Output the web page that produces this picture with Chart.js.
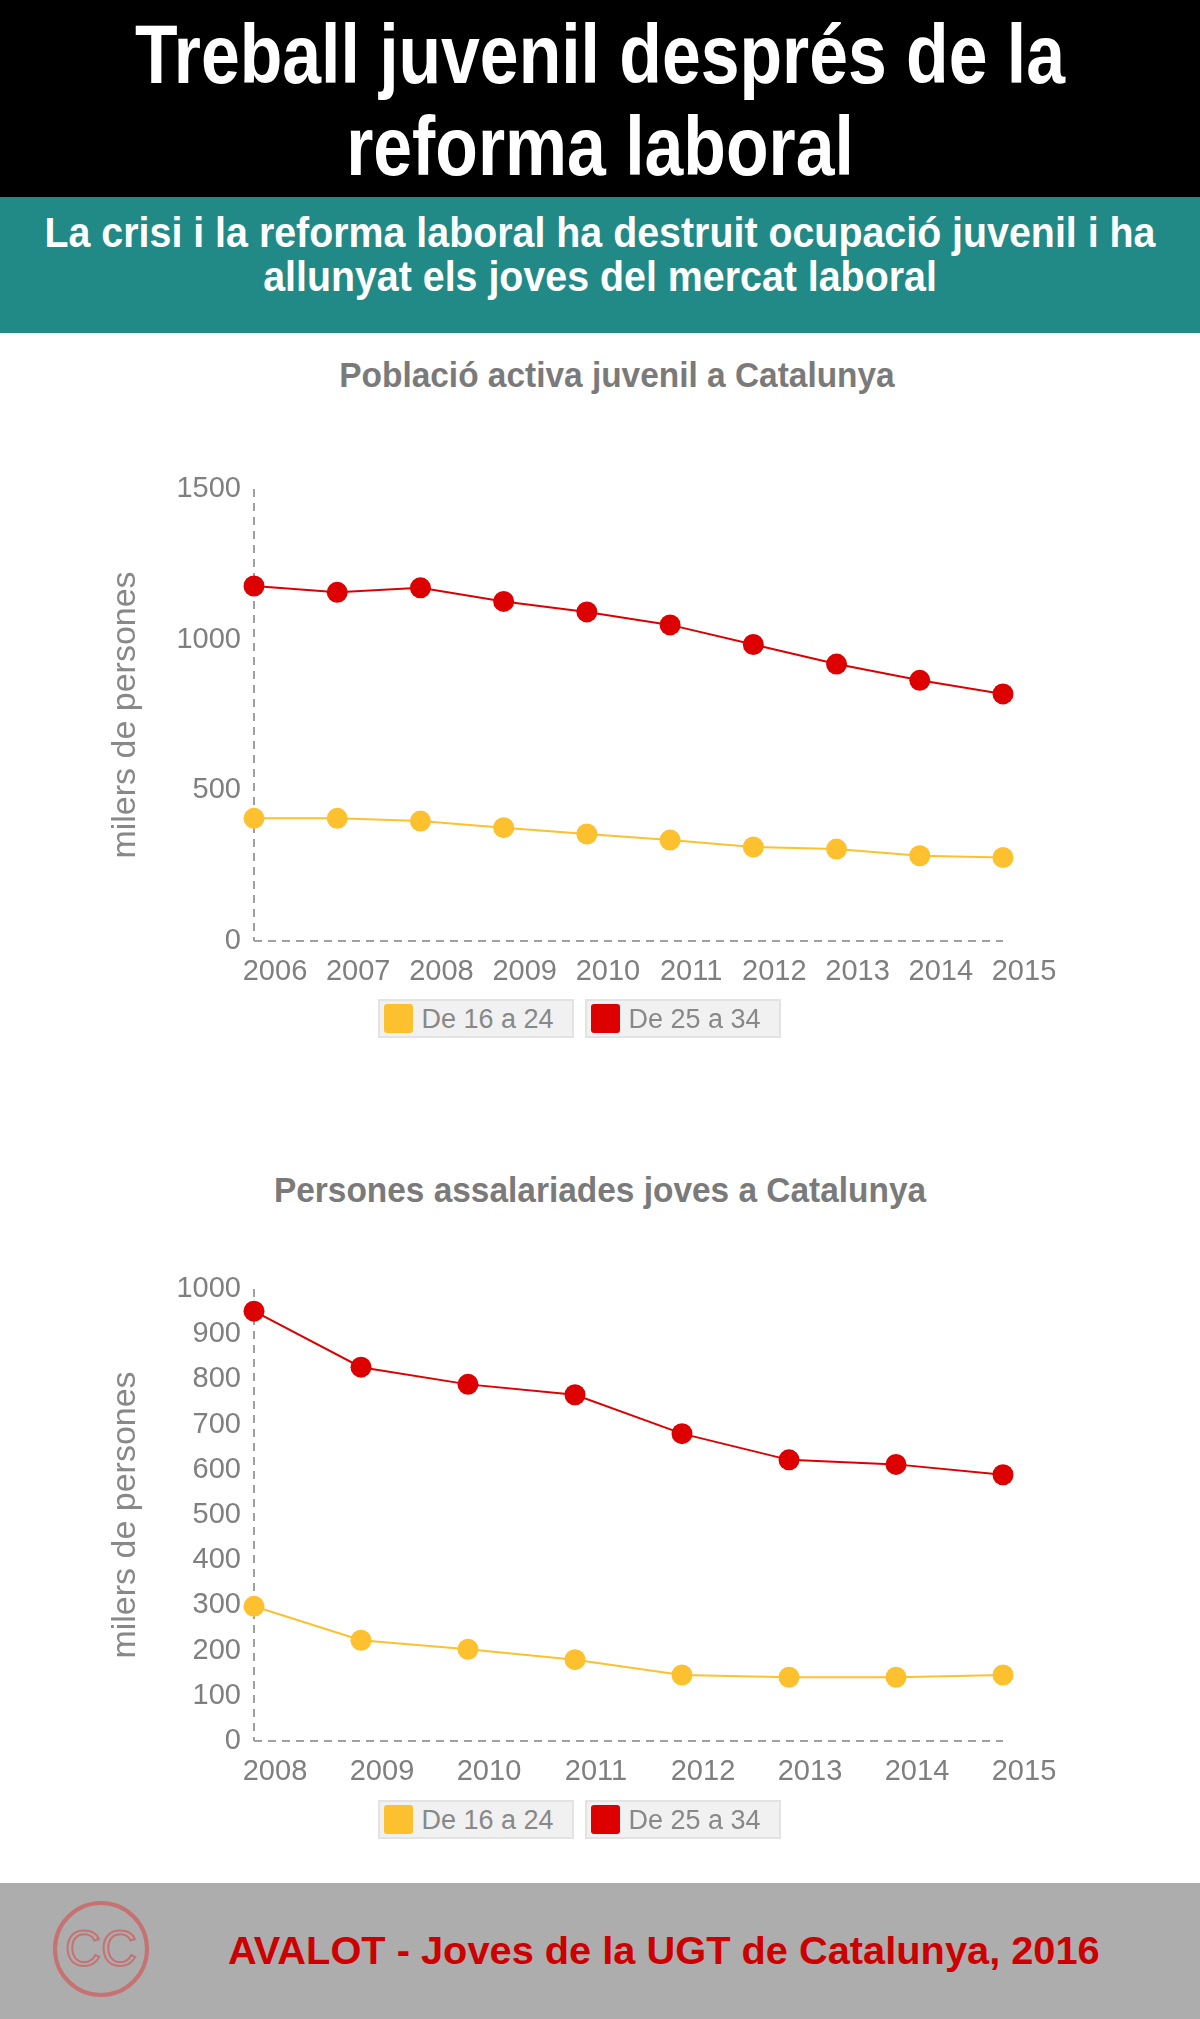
<!DOCTYPE html>
<html lang="ca">
<head>
<meta charset="UTF-8">
<title>Treball juvenil després de la reforma laboral</title>
<script src="https://cdn.jsdelivr.net/npm/chart.js"></script>
<style>
    html, body { margin: 0; padding: 0; }
    body {
        width: 1200px;
        height: 2019px;
        position: relative;
        background: #ffffff;
        overflow: hidden;
        font-family: "Liberation Sans", Arial, sans-serif;
    }
    .band { position: absolute; left: 0; width: 1200px; }
    .header { top: 0; height: 197px; background: #000000; }
    .teal { top: 197px; height: 136px; background: #218a87; }
    .footer { top: 1883px; height: 136px; background: #adadad; }
    .txt {
        position: absolute;
        left: 0;
        width: 1200px;
        text-align: center;
        white-space: nowrap;
        transform-origin: 600px 0;
    }
    .title {
        top: 8px;
        color: #fff;
        transform: scaleX(0.83);
        font: bold 84px/92px "Liberation Sans", Arial, sans-serif;
    }
    .subtitle {
        top: 211px;
        color: #fff;
        transform: scaleX(0.937);
        font: bold 42px/44px "Liberation Sans", Arial, sans-serif;
    }
    .chart-title {
        color: #7a7a7a;
        transform: scaleX(0.955);
        font: bold 35px/35px "Liberation Sans", Arial, sans-serif;
    }
    .chart-box { position: absolute; left: 0; width: 1200px; height: 570px; }
    .legend {
        position: absolute;
        left: 0;
        width: 1158px;
        display: flex;
        justify-content: center;
        gap: 11px;
    }
    .legend-item {
        box-sizing: border-box;
        width: 196px;
        height: 39px;
        background: #f1f1f1;
        border: 2px solid #e3e3e3;
        position: relative;
    }
    .legend-item .sw {
        position: absolute;
        left: 4px;
        top: 3px;
        width: 29px;
        height: 29px;
        border-radius: 3px;
    }
    .legend-item .lb {
        position: absolute;
        left: 42px;
        top: 3px;
        color: #888;
        font: 27px/31px "Liberation Sans", Arial, sans-serif;
        white-space: nowrap;
    }
    .cc {
        position: absolute;
        left: 53px;
        top: 1901px;
        width: 88px;
        height: 88px;
        border: 4px solid #c77272;
        border-radius: 50%;
        text-align: center;
        font: 50px/88px "Liberation Sans", Arial, sans-serif;
        color: transparent;
        -webkit-text-stroke: 2px #c77272;
    }
    .credit {
        top: 1931px;
        left: 228px;
        width: auto;
        text-align: left;
        color: #cc0000;
        transform-origin: 0 0;
        transform: scaleX(1.02);
        font: bold 39px/39px "Liberation Sans", Arial, sans-serif;
    }
</style>
</head>
<body>
<div class="band header"></div>
<div class="band teal"></div>
<div class="band footer"></div>

<div class="txt title">Treball juvenil després de la<br>reforma laboral</div>
<div class="txt subtitle">La crisi i la reforma laboral ha destruit ocupació juvenil i ha<br>allunyat els joves del mercat laboral</div>

<div class="txt chart-title" style="top:357px; left:17px;">Població activa juvenil a Catalunya</div>
<div class="chart-box" style="top:440px;"><canvas id="chart1"></canvas></div>
<div class="legend" id="legend1" style="top:999px;"></div>

<div class="txt chart-title" style="top:1172px;">Persones assalariades joves a Catalunya</div>
<div class="chart-box" style="top:1240px;"><canvas id="chart2"></canvas></div>
<div class="legend" id="legend2" style="top:1800px;"></div>

<div class="cc">CC</div>
<div class="txt credit">AVALOT - Joves de la UGT de Catalunya, 2016</div>

<script>
    // Població activa juvenil (milers de persones)
    const years1 = ['2006', '2007', '2008', '2009', '2010', '2011', '2012', '2013', '2014', '2015'];
    const activa16_24 = [407, 407, 398, 376, 355, 335, 312, 305, 283, 277];
    const activa25_34 = [1178, 1157, 1172, 1127, 1092, 1049, 984, 919, 865, 820];

    // Persones assalariades joves (milers de persones)
    const years2 = ['2008', '2009', '2010', '2011', '2012', '2013', '2014', '2015'];
    const assal16_24 = [298, 223, 203, 180, 146, 141, 141, 146];
    const assal25_34 = [951, 827, 789, 766, 680, 622, 612, 589];

    const seriesNames = ['De 16 a 24', 'De 25 a 34'];
    const seriesColors = ['#fdc02f', '#dd0000'];

    const axisGray = '#a0a0a0';
    const tickGray = '#7f7f7f';

    const makeDataset = (label, data, color) => ({
        label: label,
        data: data,
        borderColor: color,
        backgroundColor: color,
        pointBackgroundColor: color,
        pointBorderColor: color,
        pointBorderWidth: 0,
        pointRadius: 10.5,
        pointHoverRadius: 10.5,
        borderWidth: 2,
        tension: 0,
        fill: false,
        clip: false
    });

    // the dashed axes are the first grid line of each scale, the rest stay hidden
    const makeChart = (id, labels, lowData, highData, yMax, yStep) => {
        return new Chart(document.getElementById(id).getContext('2d'), {
            type: 'line',
            data: {
                labels: labels,
                datasets: [
                    makeDataset(seriesNames[0], lowData, seriesColors[0]),
                    makeDataset(seriesNames[1], highData, seriesColors[1])
                ]
            },
            options: {
                responsive: true,
                maintainAspectRatio: false,
                animation: false,
                layout: { padding: { left: 0, right: 197, top: 49, bottom: 9 } },
                plugins: {
                    legend: { display: false },
                    tooltip: { enabled: false }
                },
                scales: {
                    x: {
                        offset: false,
                        grid: {
                            display: true,
                            drawTicks: false,
                            lineWidth: 2,
                            color: (ctx) => ctx.index === 0 ? axisGray : 'transparent'
                        },
                        border: { display: false, dash: [8, 6] },
                        ticks: {
                            color: tickGray,
                            padding: 14,
                            labelOffset: 21,
                            maxRotation: 0,
                            autoSkip: false,
                            font: { family: 'Liberation Sans', size: 29 }
                        },
                        afterFit: (scale) => { scale.height = 60; }
                    },
                    y: {
                        min: 0,
                        max: yMax,
                        grid: {
                            display: true,
                            drawTicks: false,
                            lineWidth: 2,
                            color: (ctx) => ctx.tick && ctx.tick.value === 0 ? axisGray : 'transparent'
                        },
                        border: { display: false, dash: [8, 6] },
                        ticks: {
                            stepSize: yStep,
                            color: tickGray,
                            padding: 13,
                            font: { family: 'Liberation Sans', size: 29 },
                            callback: (value) => String(value)
                        },
                        title: {
                            display: true,
                            text: 'milers de persones',
                            color: '#888888',
                            padding: { top: 105, bottom: 0 },
                            font: { family: 'Liberation Sans', size: 34 }
                        },
                        afterFit: (scale) => { scale.width = 254; }
                    }
                }
            }
        });
    };

    const buildLegend = (chart, el) => {
        chart.data.datasets.forEach((ds) => {
            const item = document.createElement('div');
            item.className = 'legend-item';
            const sw = document.createElement('div');
            sw.className = 'sw';
            sw.style.background = ds.borderColor;
            const lb = document.createElement('div');
            lb.className = 'lb';
            lb.textContent = ds.label;
            item.appendChild(sw);
            item.appendChild(lb);
            el.appendChild(item);
        });
    };

    const chart1 = makeChart('chart1', years1, activa16_24, activa25_34, 1500, 500);
    const chart2 = makeChart('chart2', years2, assal16_24, assal25_34, 1000, 100);
    buildLegend(chart1, document.getElementById('legend1'));
    buildLegend(chart2, document.getElementById('legend2'));
</script>
</body>
</html>
